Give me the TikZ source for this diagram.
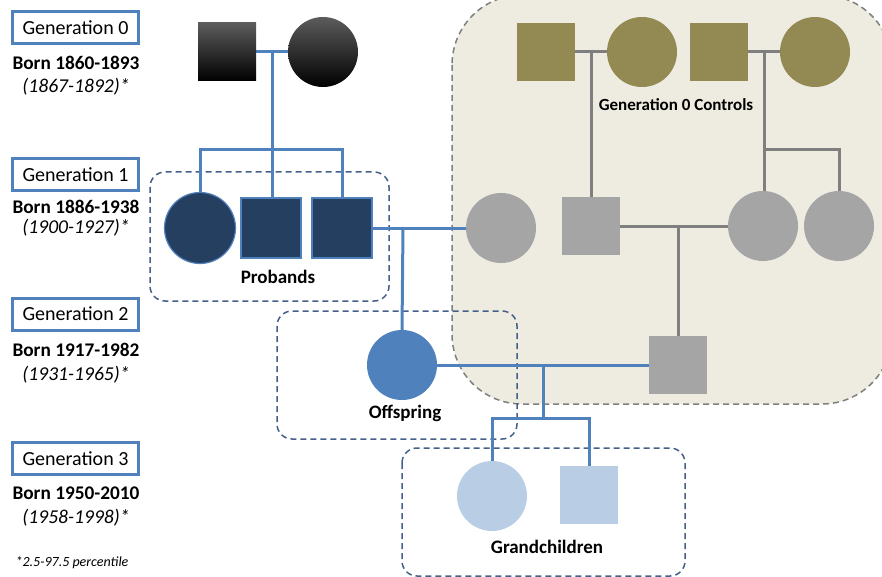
\documentclass[tikz,border=0pt]{standalone}
\usepackage{fontspec}
\setmainfont{Carlito}
\usetikzlibrary{calc,backgrounds}

\definecolor{linkblue}{HTML}{4F81BD}
\definecolor{navy}{HTML}{243F60}
\definecolor{pale}{HTML}{B9CDE5}
\definecolor{olive}{HTML}{938953}
\definecolor{ctrlgray}{HTML}{A5A5A5}
\definecolor{ctrlline}{HTML}{7F7F7F}
\definecolor{ctrlfill}{HTML}{EEECE1}
\definecolor{boxdash}{HTML}{44608A}

\tikzset{
	male/.style={rectangle, minimum size=58pt, inner sep=0pt},
	female/.style={circle, minimum size=70pt, inner sep=0pt},
	founder/.style={top color=black!64, middle color=black, bottom color=black},
	proband/.style={fill=navy, draw=linkblue, line width=1.2pt},
	genbox/.style={draw=linkblue, line width=3pt, minimum width=126pt, minimum height=32pt, inner sep=0pt, font=\fontsize{20}{23}\selectfont},
	born/.style={font=\bfseries\fontsize{19.3}{22}\selectfont},
	span/.style={font=\itshape\fontsize{19.6}{22}\selectfont},
	tag/.style={font=\bfseries\fontsize{19}{22}\selectfont},
	group/.style={draw=boxdash, line width=1.5pt, dash pattern=on 6pt off 4pt, rounded corners=15pt},
	blueline/.style={linkblue, line width=3pt},
	grayline/.style={ctrlline, line width=3pt}
}

\begin{document}
\begin{tikzpicture}[x=1pt,y=-1pt]
	\clip (0,0) rectangle (882,577);
	% generation labels
	\node[genbox] (gen0) at (75.5,28) {Generation 0};
	\node[born] (born0) at (76,63) {Born 1860-1893};
	\node[span] (span0) at (76,87) {(1867-1892)*};
	\node[genbox] (gen1) at (75.5,174.5) {Generation 1};
	\node[born] (born1) at (76,207) {Born 1886-1938};
	\node[span] (span1) at (76,228) {(1900-1927)*};
	\node[genbox] (gen2) at (75.5,314) {Generation 2};
	\node[born] (born2) at (76,350) {Born 1917-1982};
	\node[span] (span2) at (76,375) {(1931-1965)*};
	\node[genbox] (gen3) at (75.5,458.5) {Generation 3};
	\node[born] (born3) at (76,493) {Born 1950-2010};
	\node[span] (span3) at (76,518) {(1958-1998)*};
	\node[font=\itshape\fontsize{14}{16}\selectfont] (note) at (72,563) {*2.5-97.5 percentile};

	% founders
	\node[male, founder] (g0m) at (227,52) {};
	\node[female, founder] (g0f) at (323,52) {};
	% probands
	\node[female, proband, minimum size=71pt] (pr1) at (200,228) {};
	\node[male, proband, minimum size=60pt] (pr2) at (271,228) {};
	\node[male, proband, minimum size=60pt] (pr3) at (342,228) {};
	\node[tag] (prlab) at (278,277) {Probands};
	% offspring and grandchildren
	\node[female, fill=linkblue] (off) at (402,365) {};
	\node[tag] (offlab) at (405,413) {Offspring};
	\node[female, fill=pale] (gc1) at (492,496) {};
	\node[male, fill=pale] (gc2) at (589,495) {};
	\node[tag] (gclab) at (547,547) {Grandchildren};
	% controls
	\node[male, fill=olive] (c0m1) at (546,52) {};
	\node[female, fill=olive] (c0f1) at (642,52) {};
	\node[male, fill=olive] (c0m2) at (719,52) {};
	\node[female, fill=olive] (c0f2) at (815,52) {};
	\node[font=\bfseries\fontsize{17}{20}\selectfont] (ctrllab) at (676,105) {Generation 0 Controls};
	\node[female, fill=ctrlgray] (sp) at (501,228) {};
	\node[male, fill=ctrlgray] (c1m) at (591,226) {};
	\node[female, fill=ctrlgray] (c1f) at (763,226) {};
	\node[female, fill=ctrlgray] (c1f2) at (839,226) {};
	\node[male, fill=ctrlgray] (sp2) at (678,365) {};

	\coordinate (g0mid) at ($(g0m.east)!0.5!(g0f.west)$);
	\coordinate (sib1) at (271.5,150);
	\coordinate (m1) at (403,228);
	\coordinate (m2) at (543,365);
	\coordinate (sib3) at (543,418);
	\coordinate (cm1) at ($(c0m1.east)!0.5!(c0f1.west)$);
	\coordinate (cm2) at ($(c0m2.east)!0.5!(c0f2.west)$);
	\coordinate (sib2) at (764,150);
	\coordinate (cm3) at (678,226);

	\begin{pgfonlayer}{background}
		\draw[ctrlline, fill=ctrlfill, line width=1.5pt, dash pattern=on 6pt off 4pt, rounded corners=70pt] (452,-5) rectangle (892,404);
		\draw[group] (150,172) rectangle (389,301);
		\draw[group] (277,311) rectangle (517,439);
		\draw[group] (402,448) rectangle (685,576);
		% blue family
		\draw[blueline] (g0m) -- (g0f);
		\draw[blueline] (g0mid) -- (g0mid |- pr2.north);
		\draw[blueline] (pr1.north) |- (sib1) -| (pr3.north);
		\draw[blueline] (pr3) -- (sp);
		\draw[blueline] (m1) -- (off.north);
		\draw[blueline] (off) -- (sp2);
		\draw[blueline] (m2) -- (sib3);
		\draw[blueline] (gc1.north) |- (sib3) -| (gc2.north);
		% control family
		\draw[grayline] (c0m1) -- (c0f1);
		\draw[grayline] (cm1) -- (cm1 |- c1m.north);
		\draw[grayline] (c0m2) -- (c0f2);
		\draw[grayline] (cm2) -- (cm2 |- c1f.north);
		\draw[grayline] (sib2) -| (c1f2.north);
		\draw[grayline] (c1m) -- (c1f);
		\draw[grayline] (cm3) -- (sp2.north);
	\end{pgfonlayer}
\end{tikzpicture}
\end{document}
